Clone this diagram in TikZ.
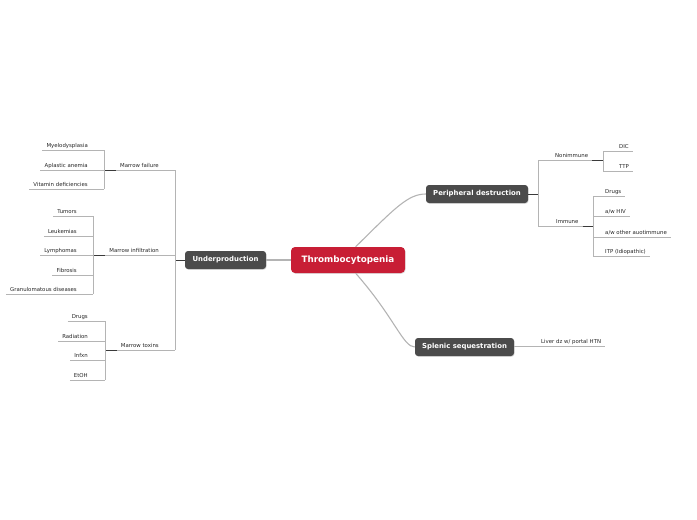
\documentclass[tikz,border=0pt]{standalone}
\usepackage{fontspec}
\setmainfont{DejaVu Sans}
\usepackage{tikz}
\usetikzlibrary{positioning,shadows}
\usepackage{xcolor}
\definecolor{topicred}{HTML}{C81E35}
\definecolor{topicgray}{HTML}{4B4B4B}
\definecolor{linegray}{HTML}{B4B4B4}
\definecolor{stubgray}{HTML}{3A3A3A}

\begin{document}
\begin{tikzpicture}[
    x=1pt, y=-1pt,
    central/.style={fill=topicred, text=white, rounded corners=4pt, minimum width=114pt, minimum height=26pt, inner sep=0pt, font=\fontsize{8.8}{10}\selectfont\bfseries, drop shadow={shadow xshift=0.6pt, shadow yshift=-0.8pt, opacity=0.25}},
    topic/.style={fill=topicgray, text=white, rounded corners=3pt, minimum height=18pt, inner sep=0pt, font=\fontsize{6.9}{8}\selectfont\bfseries, drop shadow={shadow xshift=0.6pt, shadow yshift=-0.8pt, opacity=0.25}},
    leaf/.style={inner xsep=4pt, inner ysep=1.5pt, text height=4pt, text depth=1.2pt, text=black!85, font=\fontsize{5.4}{6}\selectfont},
    mainline/.style={draw=linegray, line width=1.1pt},
    branch/.style={draw=linegray, line width=0.7pt},
    stub/.style={draw=stubgray, line width=0.9pt}
]
\useasboundingbox (0,0) rectangle (697,520);

% main topics
\node[central, minimum width=114pt] (thrombo) at (348,260) {Thrombocytopenia};
\node[topic, minimum width=81pt] (under) at (225.5,260) {Underproduction};
\node[topic, minimum width=102pt] (periph) at (477,194) {Peripheral destruction};
\node[topic, minimum width=99pt] (splenic) at (464.5,347) {Splenic sequestration};

\draw[mainline] (thrombo.west) -- (under.east);
\draw[mainline] (thrombo.60) .. controls (395,208) and (408,194) .. (periph.west);
\draw[mainline] (thrombo.-60) .. controls (395,318) and (403,347) .. (splenic.west);

% underproduction
\coordinate (underhub) at (175,260);
\coordinate (failhub) at (104,170);
\coordinate (infilhub) at (93,255);
\coordinate (toxhub) at (105,350);
\draw[stub] (under.west) -- (underhub);

\node[leaf, anchor=south east] (mfail) at (163,170) {Marrow failure};
\node[leaf, anchor=south east] (minfil) at (163,255) {Marrow infiltration};
\node[leaf, anchor=south east] (mtox) at (163,350) {Marrow toxins};
\draw[branch] (mfail.south west -| underhub) -- (mtox.south west -| underhub);
\draw[branch] (mfail.south west) -- (mfail.south west -| underhub);
\draw[branch] (minfil.south west) -- (minfil.south west -| underhub);
\draw[branch] (mtox.south west) -- (mtox.south west -| underhub);
\draw[stub] (failhub) -- (mfail.south west);
\draw[stub] (infilhub) -- (minfil.south west);
\draw[stub] (toxhub) -- (mtox.south west);

\node[leaf, anchor=south east] (myelo) at (92,150) {Myelodysplasia};
\node[leaf, anchor=south east] (aplast) at (92,170) {Aplastic anemia};
\node[leaf, anchor=south east] (vitdef) at (92,189) {Vitamin deficiencies};
\draw[branch] (myelo.south west -| failhub) -- (vitdef.south west -| failhub);
\draw[branch] (myelo.south west) -- (myelo.south west -| failhub);
\draw[branch] (aplast.south west) -- (aplast.south west -| failhub);
\draw[branch] (vitdef.south west) -- (vitdef.south west -| failhub);

\node[leaf, anchor=south east] (tumors) at (81,216) {Tumors};
\node[leaf, anchor=south east] (leuk) at (81,236) {Leukemias};
\node[leaf, anchor=south east] (lymph) at (81,255) {Lymphomas};
\node[leaf, anchor=south east] (fibro) at (81,275) {Fibrosis};
\node[leaf, anchor=south east] (granul) at (81,294) {Granulomatous diseases};
\draw[branch] (tumors.south west -| infilhub) -- (granul.south west -| infilhub);
\draw[branch] (tumors.south west) -- (tumors.south west -| infilhub);
\draw[branch] (leuk.south west) -- (leuk.south west -| infilhub);
\draw[branch] (lymph.south west) -- (lymph.south west -| infilhub);
\draw[branch] (fibro.south west) -- (fibro.south west -| infilhub);
\draw[branch] (granul.south west) -- (granul.south west -| infilhub);

\node[leaf, anchor=south east] (drugsl) at (92,321) {Drugs};
\node[leaf, anchor=south east] (radiat) at (92,341) {Radiation};
\node[leaf, anchor=south east] (infxn) at (92,360) {Infxn};
\node[leaf, anchor=south east] (etoh) at (92,380) {EtOH};
\draw[branch] (drugsl.south west -| toxhub) -- (etoh.south west -| toxhub);
\draw[branch] (drugsl.south west) -- (drugsl.south west -| toxhub);
\draw[branch] (radiat.south west) -- (radiat.south west -| toxhub);
\draw[branch] (infxn.south west) -- (infxn.south west -| toxhub);
\draw[branch] (etoh.south west) -- (etoh.south west -| toxhub);

% peripheral destruction
\coordinate (periphhub) at (538,194);
\coordinate (nonimmhub) at (603,160);
\coordinate (immhub) at (593,226);
\draw[stub] (periph.east) -- (periphhub);

\node[leaf, anchor=south west] (nonimm) at (551,160) {Nonimmune};
\node[leaf, anchor=south west] (imm) at (552,226) {Immune};
\draw[branch] (nonimm.south west -| periphhub) -- (imm.south west -| periphhub);
\draw[branch] (nonimm.south west -| periphhub) -- (nonimm.south east);
\draw[branch] (imm.south west -| periphhub) -- (imm.south east);
\draw[stub] (nonimm.south east) -- (nonimmhub);
\draw[stub] (imm.south east) -- (immhub);

\node[leaf, anchor=south west] (dic) at (615,151) {DIC};
\node[leaf, anchor=south west] (ttp) at (615,171) {TTP};
\draw[branch] (dic.south west -| nonimmhub) -- (ttp.south west -| nonimmhub);
\draw[branch] (dic.south west -| nonimmhub) -- (dic.south east);
\draw[branch] (ttp.south west -| nonimmhub) -- (ttp.south east);

\node[leaf, anchor=south west] (drugsr) at (601,196) {Drugs};
\node[leaf, anchor=south west] (awhiv) at (601,216) {a/w HIV};
\node[leaf, anchor=south west] (awauto) at (601,237) {a/w other auotimmune};
\node[leaf, anchor=south west] (itp) at (601,256) {ITP (Idiopathic)};
\draw[branch] (drugsr.south west -| immhub) -- (itp.south west -| immhub);
\draw[branch] (drugsr.south west -| immhub) -- (drugsr.south east);
\draw[branch] (awhiv.south west -| immhub) -- (awhiv.south east);
\draw[branch] (awauto.south west -| immhub) -- (awauto.south east);
\draw[branch] (itp.south west -| immhub) -- (itp.south east);

% splenic sequestration
\node[leaf, anchor=south west] (liver) at (537,346) {Liver dz w/ portal HTN};
\draw[branch] (liver.south west -| splenic.east) -- (liver.south east);
\end{tikzpicture}
\end{document}
